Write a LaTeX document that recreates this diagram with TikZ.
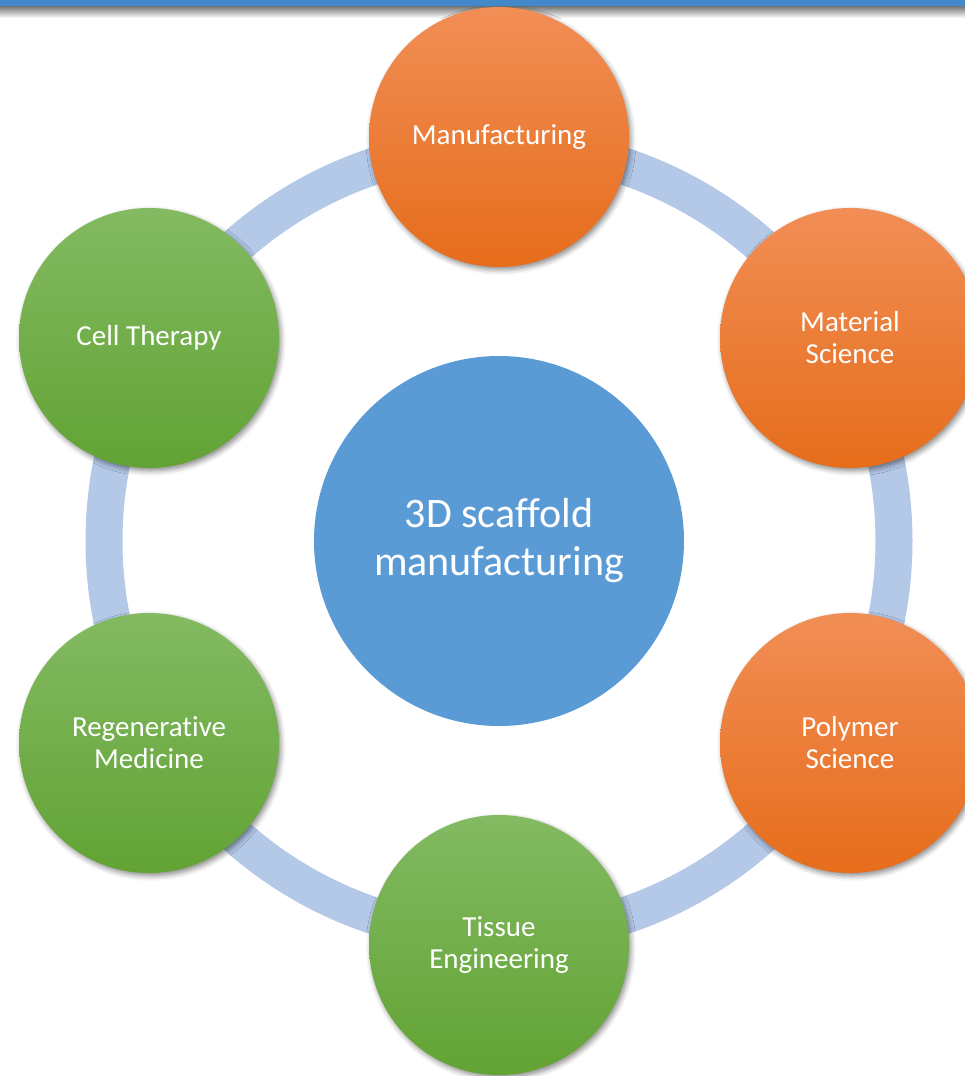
\documentclass[tikz,border=0pt]{standalone}
\usepackage{fontspec}
\setmainfont[Ligatures=NoCommon]{Carlito}
\usepackage{tikz}
\usetikzlibrary{shadows.blur}
\usetikzlibrary{shapes}
\usepackage{xcolor}

\definecolor{barblue}{RGB}{66,137,201}
\definecolor{ringblue}{RGB}{180,200,231}
\definecolor{coreblue}{RGB}{91,155,213}
\definecolor{orangetop}{RGB}{241,142,86}
\definecolor{orangebot}{RGB}{230,109,27}
\definecolor{greentop}{RGB}{131,186,98}
\definecolor{greenbot}{RGB}{98,163,52}

\begin{document}
\begin{tikzpicture}[x=1pt,y=1pt,yscale=-1,xscale=1,
  bubble/.style={circle,minimum size=260pt,inner sep=0pt,text=white,align=center,
    font=\fontsize{29}{32}\selectfont,
    blur shadow={shadow xshift=2pt,shadow yshift=-3pt,shadow blur radius=5pt,shadow opacity=45}},
  hot/.style={bubble,top color=orangetop,bottom color=orangebot},
  cool/.style={bubble,top color=greentop,bottom color=greenbot},
  ring/.style={draw=ringblue,line width=37pt}]
\useasboundingbox (0,0) rectangle (965,1076);
\clip (0,0) rectangle (965,1076);

% Top bar
\shade [top color=black!55,bottom color=white] (0,6) rectangle (965,18);
\fill [barblue] (0,0) rectangle (965,6);

% Ring
\coordinate (hub) at (499,541);
\draw [ring] (hub) circle [radius=395];

% Centre
\node (core) [circle,minimum size=370pt,inner sep=0pt,fill=coreblue,text=white,align=center,
  font=\fontsize{42}{48}\selectfont] at (hub) {3D scaffold\\manufacturing};

% Outer circles
\node (manuf) [hot] at (499,137) {Manufacturing};
\node (matsci) [hot] at (850,338) {Material\\Science};
\node (polysci) [hot] at (850,743) {Polymer\\Science};
\node (tissue) [cool] at (499,945) {Tissue\\Engineering};
\node (regen) [cool] at (149,743) {Regenerative\\Medicine};
\node (cell) [cool] at (149,338) {Cell Therapy};

% Bar over the top circle
\fill [barblue] (0,0) rectangle (965,6);

\end{tikzpicture}
\end{document}
